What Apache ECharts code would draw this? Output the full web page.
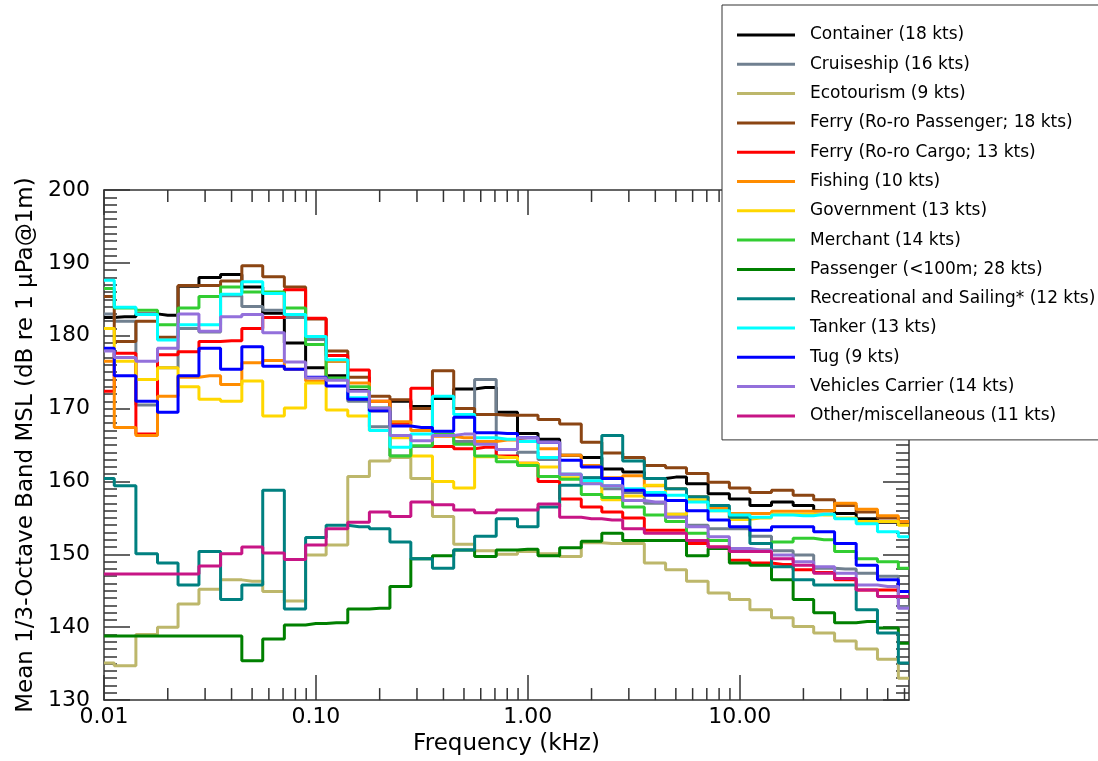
<!DOCTYPE html>
<html><head><meta charset="utf-8">
<script src="https://cdn.jsdelivr.net/npm/echarts@6/dist/echarts.min.js"></script>
<style>html,body{margin:0;padding:0;background:#fff}#c{width:1098px;height:761px}</style>
</head><body><div id="c"></div>
<script>
// 1/3-octave band centre frequencies (kHz)
const freqKHz = [0.01,0.0125,0.016,0.02,0.025,0.0315,0.04,0.05,0.063,0.08,0.1,0.125,0.16,0.2,0.25,0.315,0.4,0.5,0.63,0.8,1,1.25,1.6,2,2.5,3.15,4,5,6.3,8,10,12.5,16,20,25,31.5,40,50,63];
const xMajorLabels = [0.01, 0.1, 1, 10];
const xMinorTicks = [0.02,0.03,0.04,0.05,0.06,0.07,0.08,0.09,0.2,0.3,0.4,0.5,0.6,0.7,0.8,0.9,2,3,4,5,6,7,8,9,20,30,40,50,60];

const container   = [182.5,182.6,183.0,182.8,186.8,188.0,188.4,186.7,183.1,179.0,175.6,174.5,172.5,169.7,171.0,170.3,171.4,172.7,172.9,169.5,166.6,165.8,163.6,163.3,161.7,161.3,160.4,160.6,159.7,158.3,157.6,156.7,157.2,156.7,156.0,155.6,154.9,154.4,154.2];
const cruiseship  = [183.0,182.0,170.5,175.6,181.0,180.5,185.5,184.0,183.5,182.5,179.5,176.5,171.0,167.5,163.5,164.8,166.3,165.5,174.0,163.3,164.0,163.0,161.0,160.5,159.0,158.5,157.0,155.5,154.0,153.5,153.5,152.5,150.5,149.9,148.1,148.0,147.4,147.0,142.8];
const ecotourism  = [135.1,134.7,139.0,140.0,143.2,145.2,146.5,146.3,144.9,143.6,149.9,151.3,160.7,162.8,163.3,160.4,155.2,151.4,150.5,150.0,150.4,150.1,149.7,151.6,151.5,151.5,148.8,147.9,146.3,144.7,143.8,142.4,141.3,140.1,139.2,138.1,137.0,135.6,133.0];
const ferryPass   = [185.4,179.2,182.0,179.8,186.9,186.9,187.5,189.6,188.1,186.7,182.3,177.9,174.3,171.7,171.2,170.0,175.2,170.0,169.2,169.1,169.1,168.5,167.9,165.4,163.9,163.3,162.2,161.9,161.1,159.9,159.1,158.5,158.8,158.1,157.5,156.7,155.8,155.0,154.4];
const ferryCargo  = [172.4,177.6,166.5,177.4,177.8,179.2,179.3,181.0,182.5,186.3,182.4,177.3,175.3,171.0,168.0,172.8,164.8,164.5,164.7,163.5,162.5,160.0,157.6,156.5,155.8,155.0,153.3,153.3,151.5,151.0,149.2,148.8,148.6,147.9,147.5,146.5,145.1,145.1,144.2];
const fishing     = [176.5,167.4,166.3,171.7,174.3,174.5,173.3,176.3,176.6,175.4,173.8,176.5,173.5,171.0,168.2,167.0,166.2,166.0,165.5,165.7,165.5,164.5,163.6,162.2,160.5,160.8,159.4,159.0,157.9,156.3,155.6,155.6,155.9,155.9,156.0,157.0,156.2,155.3,154.5];
const government  = [181.0,176.5,174.0,175.6,173.0,171.3,171.0,173.8,169.0,170.1,173.5,169.8,169.0,167.0,166.0,163.5,160.0,159.1,163.4,163.3,162.5,162.0,160.5,160.0,157.5,158.0,159.5,155.5,157.5,156.0,154.8,155.0,155.5,155.5,155.4,155.0,154.5,154.5,154.0];
const merchant    = [186.5,183.8,183.5,181.5,183.8,185.4,186.7,186.0,186.0,183.8,178.8,174.2,173.0,170.1,163.5,164.9,166.5,165.1,163.5,162.7,162.2,160.7,160.3,158.2,157.8,156.5,155.4,154.5,152.9,151.9,150.6,150.6,151.7,152.2,152.0,150.4,149.4,149.0,148.1];
const passenger   = [138.8,138.8,138.8,138.8,138.8,138.8,138.8,135.4,138.4,140.3,140.5,140.6,142.5,142.6,145.6,149.4,149.8,150.6,149.7,150.6,150.7,149.8,150.9,151.8,152.9,151.9,151.9,151.9,149.8,150.8,148.8,148.5,146.5,143.8,142.0,140.6,140.8,139.9,137.8];
const recreational= [160.4,159.4,150.1,148.8,145.8,150.4,143.8,145.8,158.8,142.5,152.3,154.0,153.8,153.5,151.7,149.4,148.1,150.6,152.5,154.9,153.8,156.5,159.5,160.5,166.3,162.8,160.4,159.0,157.9,156.7,155.1,151.5,148.3,146.5,145.8,145.8,142.4,139.2,135.1];
const tanker      = [187.6,183.9,182.9,179.4,181.5,181.5,185.7,187.4,185.8,182.9,179.9,176.7,171.5,167.0,164.7,166.5,171.7,169.2,166.0,165.8,165.5,163.3,161.0,160.1,159.4,159.0,158.5,158.1,157.2,156.0,155.4,155.1,155.4,155.3,155.5,154.9,154.2,153.1,152.4];
const tug         = [178.3,174.5,171.0,169.5,174.5,178.3,175.4,178.5,175.8,175.4,174.3,173.1,171.3,169.7,167.6,167.4,166.9,168.8,166.7,166.6,166.0,165.4,162.9,162.0,160.4,158.8,158.1,157.4,156.0,154.7,153.8,153.3,153.8,153.8,153.1,151.5,148.5,146.5,144.9];
const vehicles    = [177.9,177.0,176.5,178.3,183.0,180.6,182.6,182.9,180.4,176.4,174.2,173.9,172.4,170.1,166.3,165.6,166.3,166.5,165.1,164.4,166.0,165.4,161.0,159.7,159.4,157.4,157.2,155.1,153.8,152.4,150.8,150.6,149.9,149.0,148.3,147.4,145.8,145.6,142.6];
const other       = [147.3,147.3,147.3,147.3,147.3,148.4,150.1,151.0,150.2,149.3,151.3,153.5,154.4,155.8,155.2,157.2,156.8,156.1,155.7,156.1,156.1,156.9,155.1,154.9,154.7,153.5,152.9,152.9,151.9,151.0,150.4,150.4,149.4,148.5,147.4,146.7,145.1,144.2,144.2];

const seriesNames = ['Container (18 kts)','Cruiseship (16 kts)','Ecotourism (9 kts)','Ferry (Ro-ro Passenger; 18 kts)','Ferry (Ro-ro Cargo; 13 kts)','Fishing (10 kts)','Government (13 kts)','Merchant (14 kts)','Passenger (<100m; 28 kts)','Recreational and Sailing* (12 kts)','Tanker (13 kts)','Tug (9 kts)','Vehicles Carrier (14 kts)','Other/miscellaneous (11 kts)'];
const seriesValues = [container,cruiseship,ecotourism,ferryPass,ferryCargo,fishing,government,merchant,passenger,recreational,tanker,tug,vehicles,other];
const seriesColors = ['#000000','#708090','#bdb76b','#8b4513','#ff0000','#ff8c00','#ffd700','#32cd32','#008000','#008080','#00ffff','#0000ff','#9370db','#c71585'];

const FONT = 'DejaVu Sans';
const chart = echarts.init(document.getElementById('c'), null, {renderer:'canvas'});

function isDecade(v){ const l = Math.log10(v); return Math.abs(l - Math.round(l)) < 1e-6; }

const tickStyle = {color:'#333', width:1.5};
const lineSeries = seriesNames.map((n,i)=>({
  name:n, type:'line', step:'middle', showSymbol:false, symbol:'none',
  data: freqKHz.map((f,j)=>[f, seriesValues[i][j]]),
  lineStyle:{width:3, color:seriesColors[i]}, itemStyle:{color:seriesColors[i]},
  emphasis:{disabled:true}, animation:false, z:2
}));

const minorTickSeries = {
  type:'custom', silent:true, animation:false, z:3, clip:false,
  xAxisIndex:0, yAxisIndex:0,
  data: xMinorTicks.map(v=>[v,130]),
  renderItem:function(params, api){
    const b = api.coord([api.value(0),130]);
    const t = api.coord([api.value(0),200]);
    return {type:'group', children:[
      {type:'line', shape:{x1:b[0],y1:b[1],x2:b[0],y2:b[1]-12}, style:{stroke:'#333',lineWidth:1.5}},
      {type:'line', shape:{x1:t[0],y1:t[1],x2:t[0],y2:t[1]+12}, style:{stroke:'#333',lineWidth:1.5}}
    ]};
  }
};

const xBase = {
  type:'log', logBase:10, min:0.01, max:63,
  axisLine:{show:true, lineStyle:{color:'#333', width:1.5}},
  axisTick:{show:true, inside:true, length:25, lineStyle:tickStyle},
  splitLine:{show:false}, minorTick:{show:false}, minorSplitLine:{show:false}
};
const yBase = {
  type:'value', min:130, max:200, interval:10,
  axisLine:{show:true, lineStyle:{color:'#333', width:1.5}},
  axisTick:{show:true, inside:true, length:26, lineStyle:tickStyle},
  minorTick:{show:true, splitNumber:10, length:13, lineStyle:tickStyle},
  splitLine:{show:false}
};

chart.setOption({
  backgroundColor:'#ffffff',
  animation:false,
  grid:{left:104, top:190, right:189, bottom:57, containLabel:false},
  xAxis:[
    Object.assign({}, xBase, {position:'bottom',
      name:'Frequency (kHz)', nameLocation:'middle', nameGap:27,
      nameTextStyle:{fontFamily:FONT, fontSize:23, color:'#000'},
      axisLabel:{show:true, margin:6, fontFamily:FONT, fontSize:22, color:'#000',
        showMaxLabel:false,
        formatter:function(v){ return isDecade(v) ? Math.pow(10, Math.round(Math.log10(v))).toFixed(2) : ''; }}
    }),
    Object.assign({}, xBase, {position:'top', axisLabel:{show:false}})
  ],
  yAxis:[
    Object.assign({}, yBase, {position:'left',
      name:'Mean 1/3-Octave Band MSL (dB re 1 μPa@1m)', nameLocation:'middle', nameGap:63,
      nameTextStyle:{fontFamily:FONT, fontSize:23, color:'#000'},
      axisLabel:{show:true, margin:14, fontFamily:FONT, fontSize:22, color:'#000'}
    }),
    Object.assign({}, yBase, {position:'right', axisLabel:{show:false}})
  ],
  legend:{
    show:true, orient:'vertical', left:722, top:5,
    data:seriesNames,
    icon:'rect', itemWidth:58, itemHeight:3, itemGap:11.3,
    padding:[21,4,15,15],
    backgroundColor:'#ffffff', borderColor:'#333', borderWidth:1,
    textStyle:{fontFamily:FONT, fontSize:17, color:'#000', lineHeight:18, padding:[0,0,0,10]},
    selectedMode:false, z:10
  },
  series: lineSeries.concat([minorTickSeries])
});
</script></body></html>
